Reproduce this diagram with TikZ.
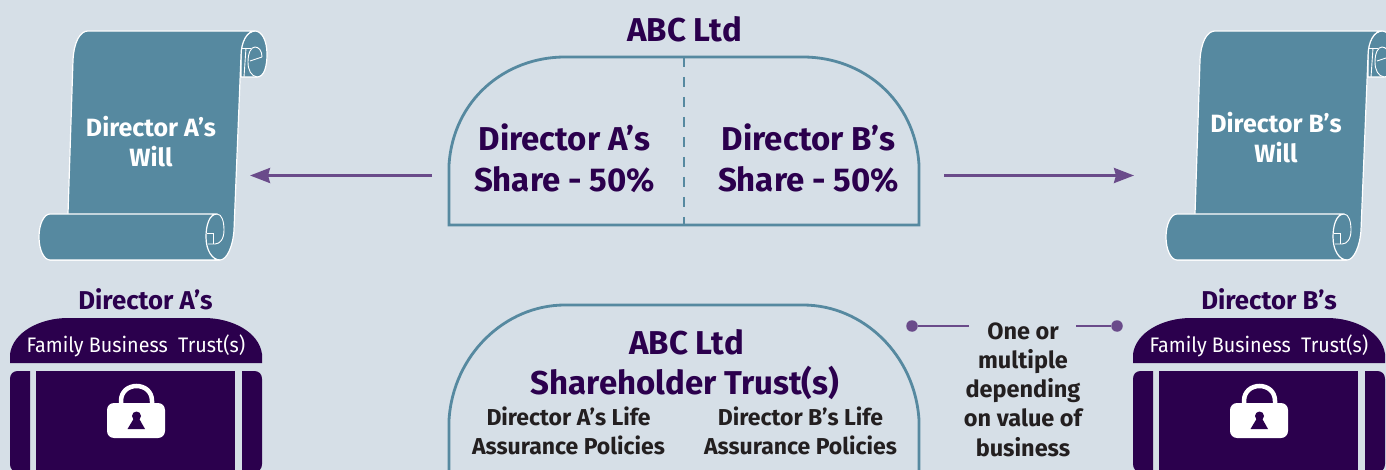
\documentclass[tikz,border=0pt]{standalone}
\usepackage{fontspec}
\setmainfont{Fira Sans}
\newfontfamily\cond{Fira Sans}
\newfontfamily\slim[FakeStretch=0.94]{Fira Sans}
\usetikzlibrary{arrows.meta}
\definecolor{bgc}{HTML}{D6DFE7}
\definecolor{teal}{HTML}{5689A0}
\definecolor{deep}{HTML}{2B004D}
\definecolor{plum}{HTML}{6A4B8A}
\definecolor{ink}{HTML}{231F20}
\tikzset{
  scrollfill/.style={fill=teal,draw=white,line width=1.2pt,line join=round},
  scrollline/.style={draw=white,line width=0.9pt},
  panel/.style={draw=teal,line width=2.8pt},
  link/.style={draw=plum,line width=2.8pt},
  tipped/.style={link,-{Stealth[length=20pt,width=15pt,inset=2pt]}},
  dot/.style={circle,fill=plum,inner sep=0pt,minimum size=11.5pt},
  title/.style={text=deep,font=\cond\bfseries\fontsize{33}{33}\selectfont,inner sep=0pt},
  share/.style={text=deep,font=\cond\bfseries\fontsize{33}{41}\selectfont,align=center,inner sep=0pt},
  willtext/.style={text=white,font=\cond\bfseries\fontsize{25}{30}\selectfont,align=center,inner sep=0pt},
  head/.style={text=deep,font=\cond\bfseries\fontsize{25.8}{26}\selectfont,inner sep=0pt},
  trusttext/.style={text=white,font=\slim\fontsize{21}{21}\selectfont,inner sep=0pt},
  policy/.style={text=ink,font=\cond\bfseries\fontsize{23}{29}\selectfont,align=center,inner sep=0pt},
  note/.style={text=ink,font=\cond\bfseries\fontsize{23.5}{29.3}\selectfont,align=center,inner sep=0pt},
}
\newcommand{\willscroll}{%
  % top curl
  \path[scrollfill] (241,77) -- (241,54) .. controls (241,40) and (248,31) .. (255,31)
     .. controls (262,31) and (267,41) .. (267,54) .. controls (267,67) and (264,77) .. (257,77) -- cycle;
  % sheet
  \path[scrollfill] (88,31) -- (255,31) .. controls (247,31) and (241,42) .. (241,56)
     -- (234,230) .. controls (233,246) and (227,260) .. (220,260)
     -- (50,260) -- (68,214) -- (73,60) .. controls (74,42) and (80,31) .. (88,31) -- cycle;
  % curl details
  \draw[scrollline] (241,48) -- (251,48);
  \draw[scrollline] (244,77) -- (246,48);
  \draw[scrollline] (257,77) .. controls (251,76) and (248,70) .. (248,62)
     .. controls (248,53) and (251,47) .. (255,47) .. controls (259,47) and (262,51) .. (262,57);
  \draw[scrollline] (250,61) -- (262,57);
  % bottom roll
  \path[scrollfill] (50,214) -- (217,214) .. controls (209,214) and (206,226) .. (206,237)
     .. controls (206,250) and (212,260) .. (220,260) -- (50,260)
     .. controls (44,260) and (39,250) .. (39,237) .. controls (39,224) and (44,214) .. (50,214) -- cycle;
  \draw[scrollline] (217,214) .. controls (222,214) and (224,222) .. (224,230)
     .. controls (224,239) and (220,244) .. (215,244) -- (208,244);
  \draw[scrollline] (207,233) -- (213,233) -- (213,244);
}
\newcommand{\trustbox}{%
  \fill[deep] (10,363) -- (10,354) .. controls (13,332) and (40,318) .. (68,318) -- (204,318)
     .. controls (232,318) and (259,332) .. (262,354) -- (262,363) -- cycle;
  \fill[deep] (30,371) -- (30,472) -- (18,472) .. controls (13,472) and (10,469) .. (10,464)
     -- (10,379) .. controls (10,374) and (13,371) .. (18,371) -- cycle;
  \fill[deep] (36,371) rectangle (235,480);
  \fill[deep] (242,371) -- (242,472) -- (254,472) .. controls (259,472) and (262,469) .. (262,464)
     -- (262,379) .. controls (262,374) and (259,371) .. (254,371) -- cycle;
  % padlock
  \draw[white,line width=4.5pt] (121,406) -- (121,401) .. controls (121,381) and (152,381) .. (152,401) -- (152,406);
  \fill[white,rounded corners=7pt] (107,403) rectangle (165,438);
  \fill[deep] (136.5,416) circle[radius=4.5];
  \fill[deep] (127.5,429) -- (136.5,414) -- (145,429) -- cycle;
}
\begin{document}
\begin{tikzpicture}[x=1pt,y=-1pt]
\useasboundingbox (0,0) rectangle (1386,470);
\fill[bgc] (0,0) rectangle (1386,470);
% scrolls
\willscroll
\begin{scope}[xshift=1127pt]\willscroll\end{scope}
\node[willtext] (willa) at (151,142) {Director A’s\\Will};
\node[willtext] (willb) at (1276,138) {Director B’s\\Will};
% top panel
\node[title] (abctop) at (684.5,29) {ABC Ltd};
\draw[panel] (449,225) -- (449,165) .. controls (453,100) and (505,57) .. (565,57) -- (803,57)
   .. controls (863,57) and (915,100) .. (919,165) -- (919,225) -- cycle;
\coordinate (dashtop) at (684,57);
\coordinate (dashbot) at (684,225);
\draw[draw=teal,line width=2.8pt,dash pattern=on 10pt off 10pt] (dashtop) -- (dashbot);
\node[share] (sharea) at (564.5,158) {Director A’s\\Share - 50\%};
\node[share] (shareb) at (808.5,158) {Director B’s\\Share - 50\%};
% arrows
\coordinate (la) at (432,175.5);
\coordinate (lb) at (250,175.5);
\coordinate (ra) at (944,175.5);
\coordinate (rb) at (1134,175.5);
\draw[tipped] (la) -- (lb);
\draw[tipped] (ra) -- (rb);
% trust boxes
\trustbox
\begin{scope}[xshift=1123pt]\trustbox\end{scope}
\node[head] (heada) at (145.5,299.5) {Director A’s};
\node[head] (headb) at (1269,299.5) {Director B’s};
\node[trusttext] (trusta) at (136,345.5) {Family Business\ \ Trust(s)};
\node[trusttext] (trustb) at (1259,345.5) {Family Business\ \ Trust(s)};
% lower panel
\draw[panel] (449,480) -- (449,420) .. controls (453,355) and (505,305) .. (565,305) -- (803,305)
   .. controls (863,305) and (915,355) .. (919,420) -- (919,480);
\node[title] (abclow) at (686.5,342) {ABC Ltd};
\node[title] (shtrust) at (685,383) {Shareholder Trust(s)};
\node[policy] (pola) at (568.5,431) {Director A’s Life\\Assurance Policies};
\node[policy] (polb) at (800.5,431) {Director B’s Life\\Assurance Policies};
% note
\node[note] (note) at (1023,389.5) {One or\\multiple\\depending\\on value of\\business};
\node[dot] (dl) at (912,326) {};
\node[dot] (dr) at (1117,326) {};
\coordinate (nl) at (969,326);
\coordinate (nr) at (1076,326);
\draw[link] (dl) -- (nl);
\draw[link] (nr) -- (dr);
\end{tikzpicture}
\end{document}
